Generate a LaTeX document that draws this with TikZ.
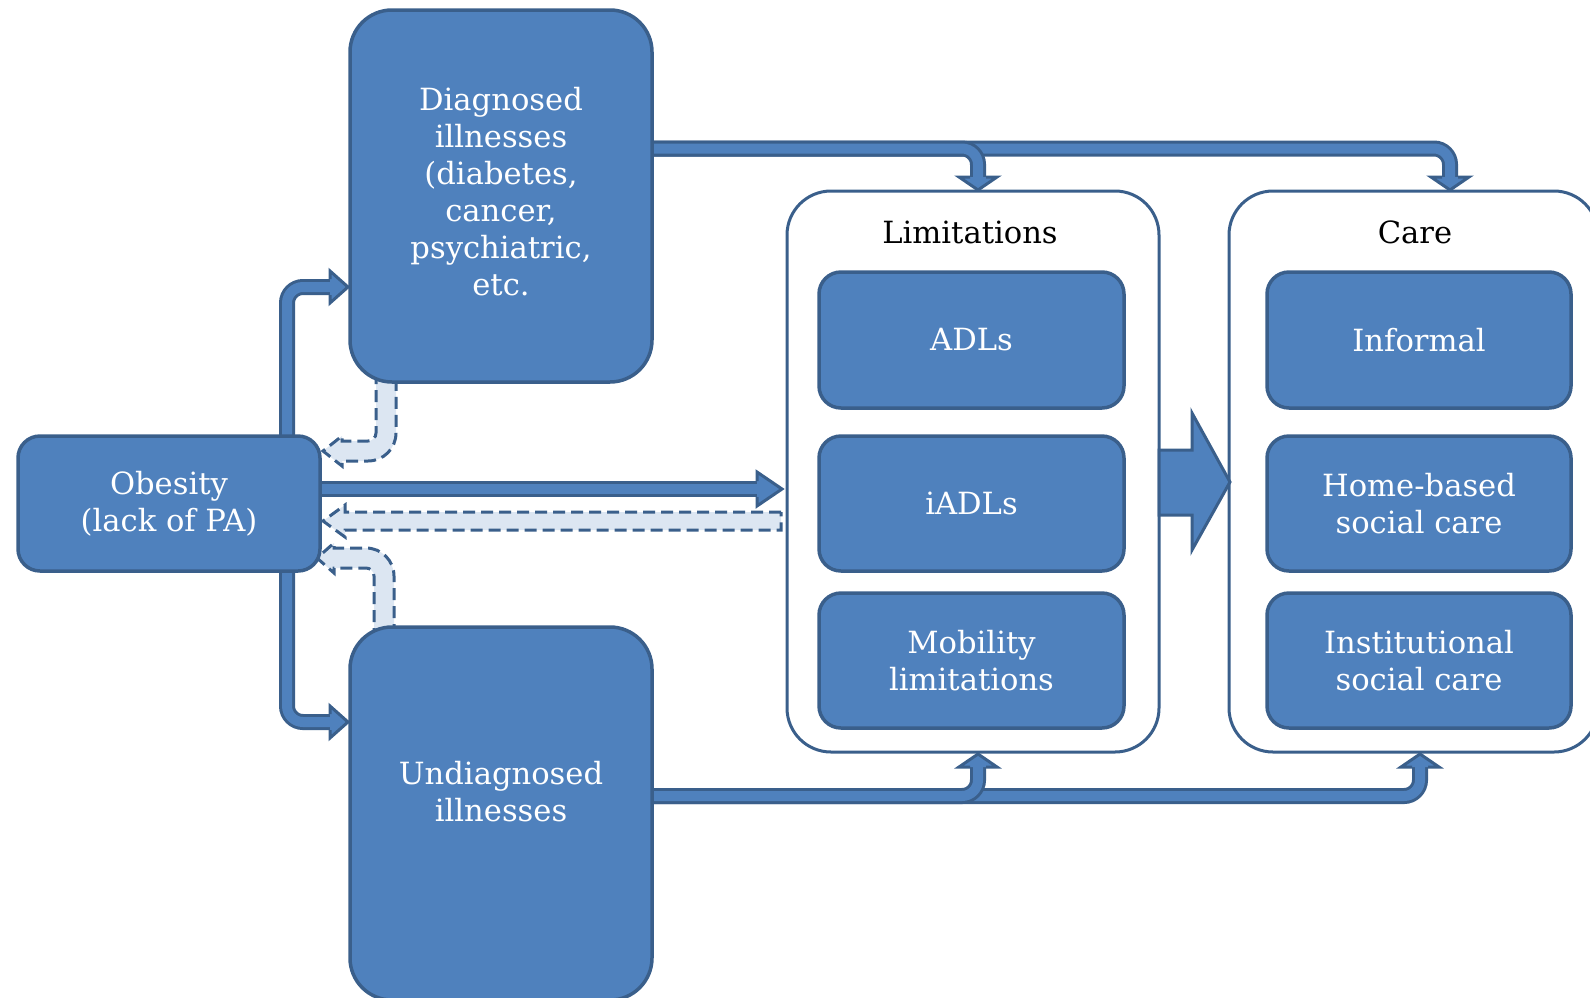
\documentclass[tikz,border=0pt]{standalone}
\usepackage{fontspec}
\setmainfont{DejaVu Serif}
\definecolor{boxfill}{HTML}{4F81BD}
\definecolor{boxline}{HTML}{3A5F8B}
\definecolor{dashfill}{HTML}{DCE6F2}
\tikzset{
  bluebox/.style={draw=boxline, line width=1.75pt, fill=boxfill, rounded corners=11pt,
    text=white, align=center, inner sep=0pt, font=\fontsize{15.3}{18.5}\selectfont},
  bigbox/.style={bluebox, rounded corners=21pt},
  container/.style={draw=boxline, line width=1.5pt, fill=white, rounded corners=22pt, inner sep=0pt},
  lbl/.style={text=black, font=\fontsize{15.3}{18.5}\selectfont, inner sep=0pt},
  boxtext/.style={text=white, align=center, inner sep=0pt, font=\fontsize{15.3}{18.5}\selectfont},
  shaftout/.style={draw=boxline, line width=8pt, rounded corners=8pt},
  shaftin/.style={draw=boxfill, line width=5pt, rounded corners=8pt},
  headfill/.style={fill=boxfill},
  headline/.style={draw=boxline, line width=1.5pt, line join=miter},
  dasharrow/.style={fill=dashfill, draw=boxline, line width=1.5pt, dash pattern=on 6pt off 3pt, line join=miter},
  bigarrow/.style={fill=boxfill, draw=boxline, line width=1.5pt, line join=miter}
}
\begin{document}
\begin{tikzpicture}[x=0.5pt,y=-0.5pt]
\useasboundingbox (0,0) rectangle (1590,997);
\clip (0,0) rectangle (1590,997);

% containers
\node[container, minimum width=186pt, minimum height=280.5pt] (lim) at (973,471.5) {};
\node[container, minimum width=184.5pt, minimum height=280.5pt] (care) at (1413.5,471.5) {};
\node[lbl] (limlbl) at (970,232) {Limitations};
\node[lbl] (carelbl) at (1415,232) {Care};

% solid bent arrows: Obesity -> Diagnosed / Undiagnosed
\draw[shaftout] (287,503) -- (287,287) -- (331,287);
\draw[shaftin]  (287,503) -- (287,287) -- (333,287);
\fill[headfill] (330,279) -- (330,271) -- (348,287) -- (330,303) -- (330,295) -- cycle;
\draw[headline] (330,279) -- (330,271) -- (348,287) -- (330,303) -- (330,295);

\draw[shaftout] (287,503) -- (287,722) -- (331,722);
\draw[shaftin]  (287,503) -- (287,722) -- (333,722);
\fill[headfill] (330,714) -- (330,706) -- (348,722) -- (330,738) -- (330,730) -- cycle;
\draw[headline] (330,714) -- (330,706) -- (348,722) -- (330,738) -- (330,730);

% Obesity -> Limitations
\draw[shaftout] (300,489) -- (758,489);
\draw[shaftin]  (300,489) -- (760,489);
\fill[headfill] (757,481) -- (757,472) -- (782,489) -- (757,506) -- (757,497) -- cycle;
\draw[headline] (757,481) -- (757,472) -- (782,489) -- (757,506) -- (757,497);

% Diagnosed -> Care (top)
\draw[shaftout] (640,148.5) -- (1450,148.5) -- (1450,178);
\draw[shaftin]  (640,148.5) -- (1450,148.5) -- (1450,180);
\fill[headfill] (1442,177) -- (1431,177) -- (1450,190) -- (1469,177) -- (1458,177) -- cycle;
\draw[headline] (1442,177) -- (1431,177) -- (1450,190) -- (1469,177) -- (1458,177);

% Diagnosed -> Limitations (top)
\draw[shaftout] (640,148.5) -- (978,148.5) -- (978,178);
\draw[shaftin]  (640,148.5) -- (978,148.5) -- (978,180);
\fill[headfill] (970,177) -- (959,177) -- (978,190) -- (997,177) -- (986,177) -- cycle;
\draw[headline] (970,177) -- (959,177) -- (978,190) -- (997,177) -- (986,177);

% Undiagnosed -> Care (bottom)
\draw[shaftout] (640,796) -- (1420,796) -- (1420,766);
\draw[shaftin]  (640,796) -- (1420,796) -- (1420,764);
\fill[headfill] (1412,767) -- (1401,767) -- (1420,754) -- (1439,767) -- (1428,767) -- cycle;
\draw[headline] (1412,767) -- (1401,767) -- (1420,754) -- (1439,767) -- (1428,767);

% Undiagnosed -> Limitations (bottom)
\draw[shaftout] (640,796) -- (978,796) -- (978,766);
\draw[shaftin]  (640,796) -- (978,796) -- (978,764);
\fill[headfill] (970,767) -- (959,767) -- (978,754) -- (997,767) -- (986,767) -- cycle;
\draw[headline] (970,767) -- (959,767) -- (978,754) -- (997,767) -- (986,767);

% dashed feedback arrows
\path[dasharrow] (376,372) -- (376,433) .. controls (376,437.4) and (372.4,441) .. (368,441)
  -- (342,441) -- (342,436) -- (323,451) -- (342,466) -- (342,461) -- (368,461)
  .. controls (383.5,461) and (396,448.5) .. (396,433) -- (396,372) -- cycle;
\path[dasharrow] (374,640) -- (374,576) .. controls (374,571.6) and (370.4,568) .. (366,568)
  -- (334,568) -- (334,573) -- (317,558) -- (334,543) -- (334,548) -- (366,548)
  .. controls (381.5,548) and (394,560.5) .. (394,576) -- (394,640) -- cycle;
\path[dasharrow] (781,512) -- (345,512) -- (345,505) -- (323,521) -- (345,537) -- (345,530) -- (781,530) -- cycle;

% main boxes
\node[bigbox, minimum width=151pt, minimum height=186pt] (diag) at (501,196) {};
\node[boxtext] (diagtext) at (501,192) {Diagnosed\\illnesses\\(diabetes,\\cancer,\\psychiatric,\\etc.};
\node[bigbox, minimum width=151pt, minimum height=186.5pt] (undiag) at (501,813.5) {};
\node[boxtext] (undiagtext) at (501,792) {Undiagnosed\\illnesses};
\node[bluebox, minimum width=151pt, minimum height=67.5pt] (obes) at (169,503.5)
  {Obesity\\(lack of PA)};

\node[bluebox, minimum width=152.5pt, minimum height=68pt] (adl) at (971.5,340) {ADLs};
\node[bluebox, minimum width=152.5pt, minimum height=67.5pt] (iadl) at (971.5,503.5) {iADLs};
\node[bluebox, minimum width=152.5pt, minimum height=67.5pt] (mob) at (971.5,660.5) {Mobility\\limitations};

\node[bluebox, minimum width=152pt, minimum height=68pt] (inf) at (1419,340) {Informal};
\node[bluebox, minimum width=152pt, minimum height=67.5pt] (home) at (1419,503.5) {Home-based\\social care};
\node[bluebox, minimum width=152pt, minimum height=67.5pt] (inst) at (1419,660.5) {Institutional\\social care};

% big arrow Limitations -> Care
\path[bigarrow] (1159,450) -- (1192,450) -- (1192,413) -- (1230,482) -- (1192,550) -- (1192,515) -- (1159,515) -- cycle;
\end{tikzpicture}
\end{document}
